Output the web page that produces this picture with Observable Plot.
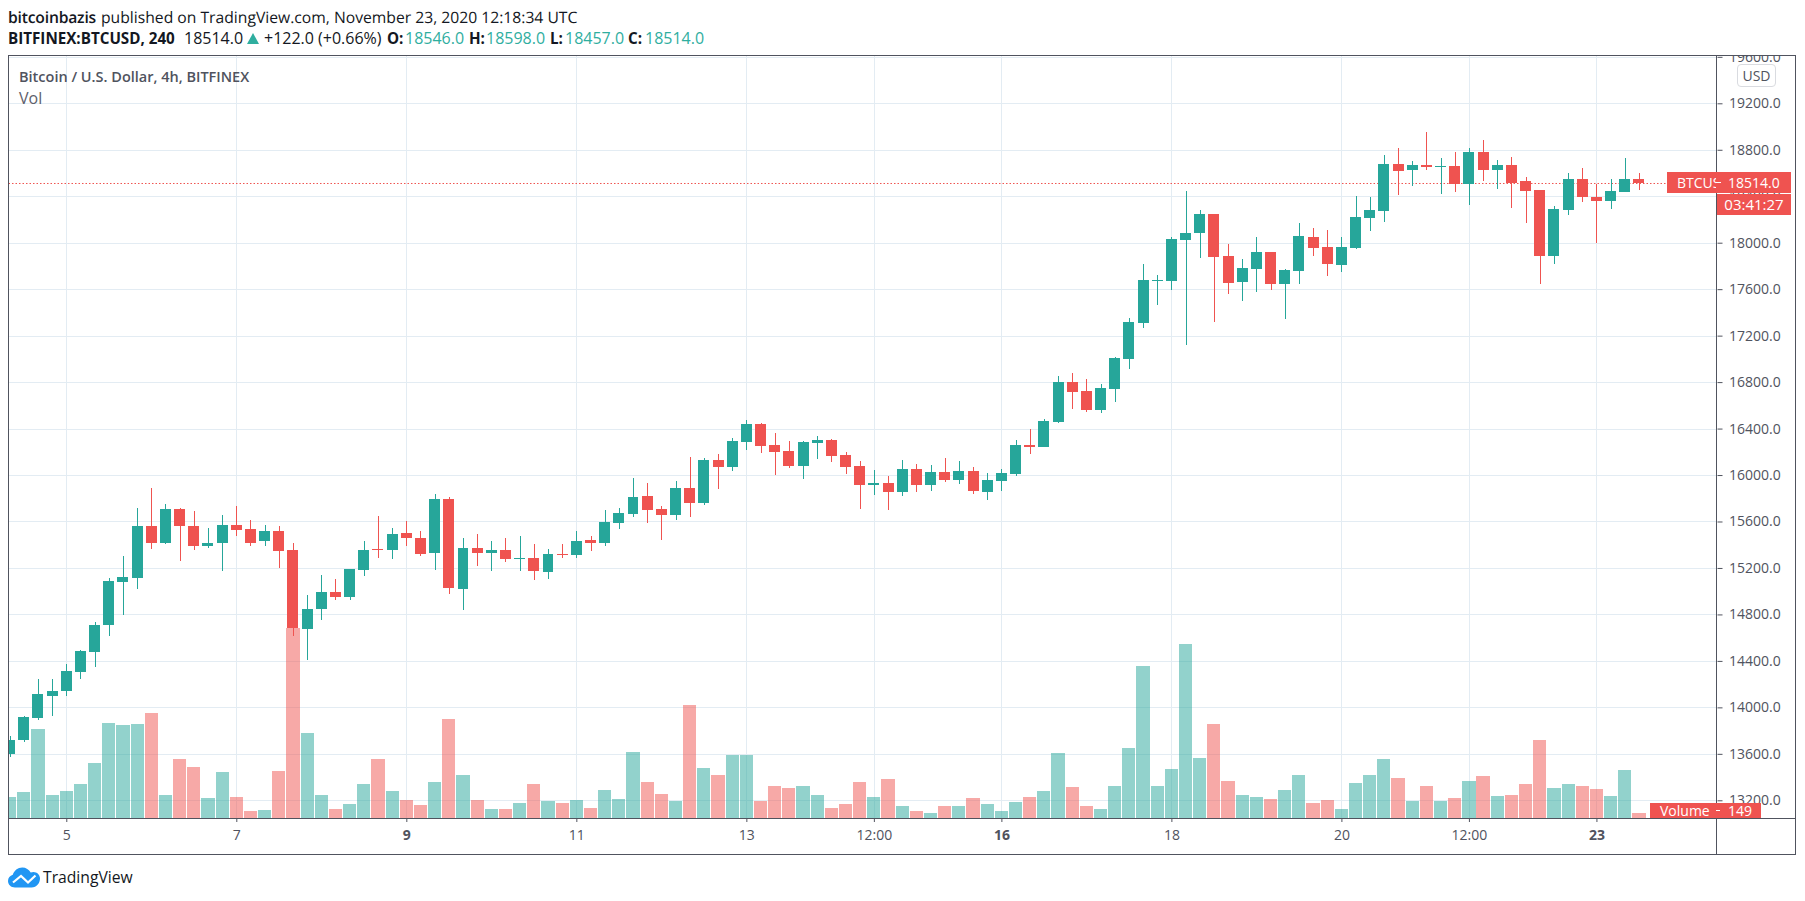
<!DOCTYPE html>
<html>
<head>
<meta charset="utf-8">
<script src="https://cdn.jsdelivr.net/npm/d3@7"></script>
<script src="https://cdn.jsdelivr.net/npm/@observablehq/plot@0.6"></script>
<style>
html,body{margin:0;padding:0;background:#fff;width:1805px;height:901px;overflow:hidden;font-family:"Open Sans",sans-serif;}
#stage{position:relative;width:1805px;height:901px;overflow:hidden;}
.abs{position:absolute;white-space:nowrap;}
#plots{position:absolute;left:0;top:55px;width:1805px;height:800px;overflow:hidden;}
#plots svg{position:absolute;left:0;top:0;background:transparent;}
</style>
</head>
<body>
<div id="stage"><div id="plots"></div></div>
<script>
// 4h candles, first one opens 2020-11-04 08:00 UTC
const firstBar = Date.UTC(2020, 10, 4, 8);
const opens = [
13599,13716,13905,14102,14145,14308,14480,14707,15076,15110,
15565,15411,15711,15565,15393,15411,15574,15539,15428,15514,
15351,14672,14844,14990,14947,15179,15359,15351,15505,15454,
15325,15797,15016,15368,15333,15351,15273,15282,15162,15316,
15308,15445,15411,15591,15668,15823,15711,15660,15891,15763,
16132,16072,16286,16441,16260,16209,16080,16278,16303,16175,
16080,15917,15934,15857,16054,15917,16029,15960,16037,15857,
15951,16012,16255,16243,16458,16801,16724,16561,16741,16999,
17308,17668,17668,18020,18080,18243,17883,17660,17771,17917,
17642,17754,18046,17960,17808,17954,18212,18272,18675,18624,
18667,18649,18658,18504,18778,18624,18667,18529,18452,17886,
18280,18546,18392,18358,18435,18546];
const closes = [
13716,13914,14111,14145,14317,14489,14712,15084,15119,15565,
15411,15711,15557,15393,15419,15574,15531,15419,15514,15342,
14680,14844,14990,14947,15188,15351,15351,15496,15454,15316,
15797,15024,15368,15325,15351,15273,15282,15170,15316,15308,
15436,15411,15599,15677,15814,15702,15660,15891,15763,16132,
16072,16295,16441,16252,16200,16080,16286,16303,16166,16072,
15917,15934,15857,16054,15917,16029,15960,16037,15866,15960,
16020,16255,16238,16466,16801,16715,16561,16750,17007,17316,
17677,17677,18029,18080,18243,17874,17651,17780,17917,17642,
17763,18054,17951,17814,17963,18220,18280,18675,18615,18667,
18649,18658,18504,18778,18624,18667,18512,18443,17886,18289,
18546,18392,18358,18443,18546,18514];
const highs = [
13751,13922,14240,14248,14377,14497,14738,15110,15299,15720,
15891,15754,15720,15694,15548,15660,15737,15617,15574,15557,
15419,14964,15136,15102,15188,15428,15651,15548,15608,15514,
15840,15814,15462,15496,15436,15454,15471,15402,15359,15402,
15522,15471,15702,15720,15977,15934,15737,15951,16157,16149,
16183,16320,16475,16449,16363,16295,16295,16338,16312,16200,
16123,16046,15994,16132,16097,16089,16149,16123,16072,16020,
16055,16299,16394,16484,16853,16879,16827,16784,17016,17351,
17814,17720,18046,18449,18278,18243,17986,17857,18046,17917,
17771,18166,18123,18106,18049,18401,18392,18752,18812,18701,
18950,18727,18778,18812,18881,18710,18735,18564,18452,18315,
18598,18641,18504,18546,18727,18598];
const lows = [
13573,13699,13888,13922,14094,14248,14351,14612,14793,15016,
15359,15402,15256,15351,15376,15170,15479,15393,15385,15196,
14612,14406,14750,14921,14921,15127,15282,15273,15385,15299,
15179,14973,14836,15213,15170,15248,15170,15093,15102,15282,
15282,15342,15393,15539,15642,15591,15445,15617,15642,15745,
15883,16037,16217,16192,16003,16063,15969,16140,16114,16011,
15711,15831,15702,15823,15857,15866,15943,15926,15840,15788,
15864,15994,16177,16238,16449,16569,16544,16535,16630,16913,
17265,17462,17591,17119,17866,17316,17557,17496,17574,17591,
17342,17642,17883,17711,17748,17946,18100,18177,18409,18486,
18624,18418,18435,18323,18529,18461,18298,18169,17645,17817,
18237,18349,17997,18289,18435,18457];
const volumes = [
596,736,2496,652,764,959,1546,2663,2608,2635,
2943,652,1658,1434,568,1294,596,205,233,1322,
5317,2384,652,261,400,959,1658,764,512,373,
1015,2775,1211,512,261,261,428,959,484,428,
512,289,792,540,1853,1015,680,484,3166,1406,
1211,1769,1769,484,903,847,903,652,289,400,
1015,596,1099,345,205,149,345,345,568,400,
205,456,596,764,1825,875,345,261,903,1965,
4256,903,1378,4870,1686,2635,1043,652,596,540,
792,1211,428,512,261,987,1211,1658,1127,484,
903,484,568,1043,1183,624,652,959,2188,847,
959,903,820,624,1350,149];

const priceTicks = d3.range(13200, 19601, 400);
const lastPrice = 18514;
const dayTicks = [
  [4,0,"5"],[6,0,"7"],[10,0,"11"],[12,0,"13"],[13,12,"12:00"],
  [17,0,"18"],[19,0,"20"],[20,12,"12:00"]
];
const boldTicks = [[8,0,"9"],[15,0,"16"],[22,0,"23"]];

const GREEN = "#26a69a", RED = "#ef5350", AXIS = "#50535e", GRID = "#e3ecf3";
const tickDate = ([d, h]) => new Date(Date.UTC(2020, 10, d + 1, h));
const normalDates = dayTicks.map(tickDate), boldDates = boldTicks.map(tickDate);
const labelOf = new Map([...dayTicks, ...boldTicks].map(t => [+tickDate(t), t[2]]));

const HOUR = 3600000;
const bars = opens.map((o, i) => {
  const t = firstBar + i * 4 * HOUR;
  return {t: new Date(t), t1: new Date(t - 1.55 * HOUR), t2: new Date(t + 1.55 * HOUR),
          v1: new Date(t - 1.86 * HOUR), v2: new Date(t + 1.86 * HOUR),
          open: o, close: closes[i], high: highs[i], low: lows[i], volume: volumes[i],
          color: closes[i] >= o ? GREEN : RED};
});

const shared = {
  width: 1805, height: 800,
  marginLeft: 8.5, marginRight: 88.5, marginTop: 0.5, marginBottom: 37,
  x: {type: "utc", domain: [new Date(Date.UTC(2020,10,4,7,41)), new Date(Date.UTC(2020,10,24,9,54))]}
};
const crisp = {shapeRendering: "crispEdges"};

const pricePlot = Plot.plot({
  ...shared,
  style: {fontFamily: '"Open Sans",sans-serif', fontSize: "14px", color: AXIS, background: "transparent"},
  y: {domain: [13047.6, 19611.5]},
  marks: [
    Plot.ruleX([...normalDates, ...boldDates], {stroke: GRID, ...crisp}),
    Plot.ruleY(priceTicks, {stroke: GRID, ...crisp}),
    Plot.ruleY([lastPrice], {stroke: RED, strokeDasharray: "1.5 2", strokeWidth: 1}),
    Plot.ruleX(bars, {x: "t", y1: "low", y2: "high", stroke: "color", strokeOpacity: 1, clip: true, ...crisp}),
    Plot.rect(bars, {x1: "t1", x2: "t2", y1: "open", y2: "close", fill: "color", clip: true, ...crisp}),
    Plot.axisY(priceTicks, {anchor: "right", label: null, tickFormat: d3.format(".1f"), tickSize: 5, tickPadding: 7, fontSize: 14}),
    Plot.axisX({ticks: normalDates, label: null, tickFormat: d => labelOf.get(+d), tickSize: 4, tickPadding: 8, fontSize: 14}),
    Plot.axisX({ticks: boldDates, label: null, tickFormat: d => labelOf.get(+d), tickSize: 4, tickPadding: 8, fontSize: 14, fontWeight: "bold"})
  ]
});

const volumePlot = Plot.plot({
  ...shared,
  style: {background: "transparent"},
  y: {domain: [0, 21302], axis: null},
  x: {...shared.x, axis: null},
  marks: [
    Plot.rectY(bars, {x1: "v1", x2: "v2", y: "volume", fill: "color", fillOpacity: 0.5, clip: true, ...crisp})
  ]
});

const plots = document.getElementById("plots");
plots.append(pricePlot, volumePlot);

// ---- page furniture (frame, legend, tags, header, footer)
const stage = document.getElementById("stage");
function put(l, t, w, h, css, text) {
  const el = document.createElement("div");
  el.className = "abs";
  el.style.cssText = `left:${l}px;top:${t}px;` + (w != null ? `width:${w}px;` : "") + (h != null ? `height:${h}px;` : "") + (css || "");
  if (text != null) el.textContent = text;
  stage.append(el);
  return el;
}
// frame
put(8, 55, 1788, 800, `box-sizing:border-box;border:1px solid ${AXIS};`);
put(1716, 55, 1, 800, `background:${AXIS};`);
put(8, 818, 1788, 1, `background:${AXIS};`);

// legend
put(19, 66, null, 22, `font-size:14.5px;font-weight:600;line-height:22px;color:#50535e;`, "Bitcoin / U.S. Dollar, 4h, BITFINEX");
put(19, 87, null, 22, `font-size:16px;line-height:22px;color:#5d606b;`, "Vol");
put(1737, 64, 39, 23, `box-sizing:border-box;border:1px solid #d9dbe0;border-radius:4px;background:#fff;font-size:14px;line-height:21px;text-align:center;color:#50535e;`, "USD");

// price tags
const tagCss = `background:${RED};color:#fff;font-size:14px;`;
put(1667, 172, 124, 21, tagCss);
put(1677, 172, 39, 21, `color:#fff;font-size:14px;line-height:21px;overflow:hidden;`, "BTCUSD");
put(1716, 182, 5, 1, `background:#fff;`);
put(1728, 172, null, 21, `color:#fff;font-size:14px;line-height:21px;`, "18514.0");
put(1717, 194, 74, 21, tagCss + `font-size:15px;line-height:21px;text-align:center;`, "03:41:27");
put(1650, 803, 111, 15, tagCss);
put(1660, 803, null, 15, `color:#fff;font-size:14px;line-height:15px;`, "Volume");
put(1716, 810, 4, 1, `background:#fff;`);
put(1728, 803, null, 15, `color:#fff;font-size:14px;line-height:15px;`, "149");

// header
const INK = "#131722", TEAL = "#2fae9f";
const line1 = "font-size:15.7px;line-height:22px;text-rendering:geometricPrecision;";
put(8, 6, null, 22, line1 + `font-weight:600;letter-spacing:-0.2px;color:${INK};`, "bitcoinbazis");
put(101, 6, null, 22, line1 + `color:${INK};`, "published on TradingView.com, November 23, 2020 12:18:34 UTC");
const bold2 = "font-size:15.2px;line-height:22px;font-weight:700;";
const reg2 = "font-size:16px;line-height:22px;font-weight:400;";
const head2 = [
  [8, "BITFINEX:BTCUSD, 240", 1, INK], [184, "18514.0", 0, INK],
  [264, "+122.0 (+0.66%)", 0, INK],
  [387, "O:", 1, INK], [405, "18546.0", 0, TEAL],
  [469, "H:", 1, INK], [486, "18598.0", 0, TEAL],
  [550, "L:", 1, INK], [565, "18457.0", 0, TEAL],
  [628, "C:", 1, INK], [645, "18514.0", 0, TEAL]
];
head2.forEach(([x, s, b, c]) => put(x, 27, null, 22, (b ? bold2 : reg2) + `color:${c};`, s));
put(247, 33, 0, 0, `border-left:6px solid transparent;border-right:6px solid transparent;border-bottom:11px solid ${TEAL};`);

// footer
const logo = put(8, 867, 33, 21, "");
logo.innerHTML = `<svg width="33" height="21" viewBox="0 0 33 21"><path fill="#2196f3" d="M7 20.5C3 20.5 0 17.6 0 14c0-3 2-5.4 4.8-6.2C6 3.6 9.8.5 14.300.5c3.600 0 6.800 2 8.400 5 .9-.4 1.800-.6 2.800-.6 3.500 0 6.300 2.800 6.500 6.200.2 5-3.300 9.400-8.500 9.400z"/><path fill="none" stroke="#fff" stroke-width="2.200" d="M5 15.500 13 9l7 6.500 7.500-7"/></svg>`;
put(43, 866, null, 22, `font-size:15.7px;line-height:22px;color:${INK};`, "TradingView");
</script>
</body>
</html>
